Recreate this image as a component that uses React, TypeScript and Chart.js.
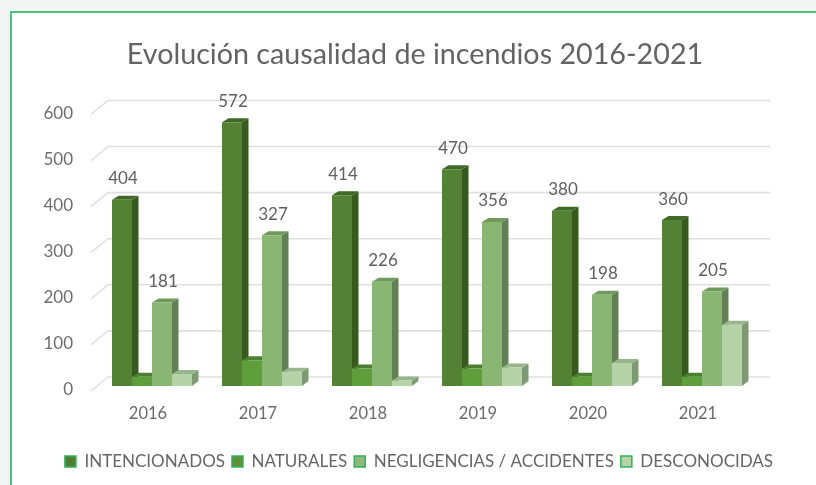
import React, { useEffect, useRef } from "react";
import { Chart, registerables } from "chart.js";

Chart.register(...registerables);

const years = ["2016", "2017", "2018", "2019", "2020", "2021"];
const intencionados = [404, 572, 414, 470, 380, 360];
const naturales = [20, 56, 38, 38, 20, 20];
const negligencias = [181, 327, 226, 356, 198, 205];
const desconocidas = [26, 31, 12, 40, 50, 133];
const seriesNames = ["INTENCIONADOS", "NATURALES", "NEGLIGENCIAS / ACCIDENTES", "DESCONOCIDAS"];
const frontColors = ["#548235", "#5f9f3b", "#8ab673", "#b6d3a7"];
const sideColors = ["#375a1f", "#375a1f", "#627f55", "#7e9a75"];
const topColors = ["#3f6a26", "#4a8030", "#6f9a5c", "#98b68b"];
const labelled = [true, false, true, false];
const yTicks = [0, 100, 200, 300, 400, 500, 600];
const FONT = "Lato, 'Open Sans', sans-serif";

const DX = 6.5;
const DY = 4;

const grid3d = {
  id: "grid3d",
  afterLayout(chart: any) {
    chart.legend.left += 4;
    chart.legend.right += 4;
  },
  beforeDatasetsDraw(chart: any) {
    const { ctx, scales } = chart;
    ctx.save();
    ctx.strokeStyle = "#e0e0e0";
    ctx.lineWidth = 1.6;
    yTicks.forEach((v) => {
      const y = scales.y.getPixelForValue(v);
      ctx.beginPath();
      ctx.moveTo(91, y + 5);
      ctx.lineTo(108, y - 9);
      ctx.lineTo(770, y - 9);
      ctx.stroke();
    });
    chart.data.datasets.forEach((_: any, d: number) => {
      const meta = chart.getDatasetMeta(d);
      meta.data.forEach((bar: any) => {
        const { x, y, base, width } = bar.getProps(["x", "y", "base", "width"], true);
        const l = x - width / 2;
        const r = x + width / 2;
        ctx.fillStyle = sideColors[d];
        ctx.beginPath();
        ctx.moveTo(r, y);
        ctx.lineTo(r + DX, y - DY);
        ctx.lineTo(r + DX, base - DY - 1);
        ctx.lineTo(r, base);
        ctx.closePath();
        ctx.fill();
        ctx.fillStyle = topColors[d];
        ctx.beginPath();
        ctx.moveTo(l, y);
        ctx.lineTo(l + DX, y - DY);
        ctx.lineTo(r + DX, y - DY);
        ctx.lineTo(r, y);
        ctx.closePath();
        ctx.fill();
      });
    });
    ctx.restore();
  },
  afterDatasetsDraw(chart: any) {
    const { ctx } = chart;
    ctx.save();
    ctx.fillStyle = "#5f5f5f";
    ctx.font = `17px ${FONT}`;
    ctx.textAlign = "center";
    ctx.textBaseline = "middle";
    chart.data.datasets.forEach((ds: any, d: number) => {
      if (!labelled[d]) return;
      chart.getDatasetMeta(d).data.forEach((bar: any, i: number) => {
        ctx.fillText(String(ds.data[i]), bar.x + 1, bar.y - 21);
      });
    });
    ctx.restore();
  },
};

export default function App() {
  const ref = useRef<HTMLCanvasElement>(null);
  useEffect(() => {
    const series = [intencionados, naturales, negligencias, desconocidas];
    const chart = new Chart(ref.current!, {
      type: "bar",
      data: {
        labels: years,
        datasets: series.map((data, i) => ({
          label: seriesNames[i],
          data,
          backgroundColor: frontColors[i],
          borderWidth: 0,
          categoryPercentage: 80 / 110,
          barPercentage: 1,
        })),
      },
      plugins: [grid3d],
      options: {
        responsive: false,
        animation: false,
        layout: { padding: { left: 14, right: 0, top: 10, bottom: 5 } },
        plugins: {
          tooltip: { enabled: false },
          title: {
            display: true,
            text: "Evolución causalidad de incendios 2016-2021",
            color: "#636363",
            font: { family: FONT, size: 28.7, weight: "normal" },
            padding: { top: 28, bottom: 37 },
          },
          legend: {
            position: "bottom",
            labels: {
              font: { family: FONT, size: 17 },
              color: "#666666",
              boxWidth: 11,
              boxHeight: 11,
              padding: 7,
              generateLabels: () =>
                seriesNames.map((text, i) => ({
                  text,
                  fillStyle: ["#4f7f35", "#5f9137", "#8fb878", "#b6d3a7"][i],
                  strokeStyle: "#35b05c",
                  lineWidth: 1.5,
                  fontColor: "#666666",
                  datasetIndex: i,
                })),
            },
          },
        },
        scales: {
          x: {
            grid: { display: false },
            border: { display: false },
            ticks: { color: "#6a6a6a", font: { family: FONT, size: 16.5 }, padding: 10, labelOffset: -4, maxRotation: 0 },
            afterFit: (s: any) => { s.height = 60; },
          },
          y: {
            min: 0,
            max: 600,
            grid: { display: false },
            border: { display: false },
            ticks: { stepSize: 100, color: "#6e6e6e", font: { family: FONT, size: 17 }, padding: 16, labelOffset: 4 },
            afterFit: (s: any) => { s.width = 83; },
          },
          y2: {
            position: "right",
            display: true,
            grid: { display: false },
            border: { display: false },
            ticks: { display: false },
            afterFit: (s: any) => { s.width = 59; },
          },
        },
      } as any,
    });
    return () => chart.destroy();
  }, []);
  return (
    <div style={{ position: "fixed", left: 0, top: 0, width: 816, height: 485, overflow: "hidden", background: "#f2f4f4" }}>
      <div style={{ position: "absolute", left: 10, top: 11, width: 804, height: 490, background: "#fff", border: "2px solid #4cc07d" }} />
      <canvas ref={ref} width={816} height={485} style={{ position: "absolute", left: 0, top: 0, filter: "blur(0.4px)" }} />
    </div>
  );
}
